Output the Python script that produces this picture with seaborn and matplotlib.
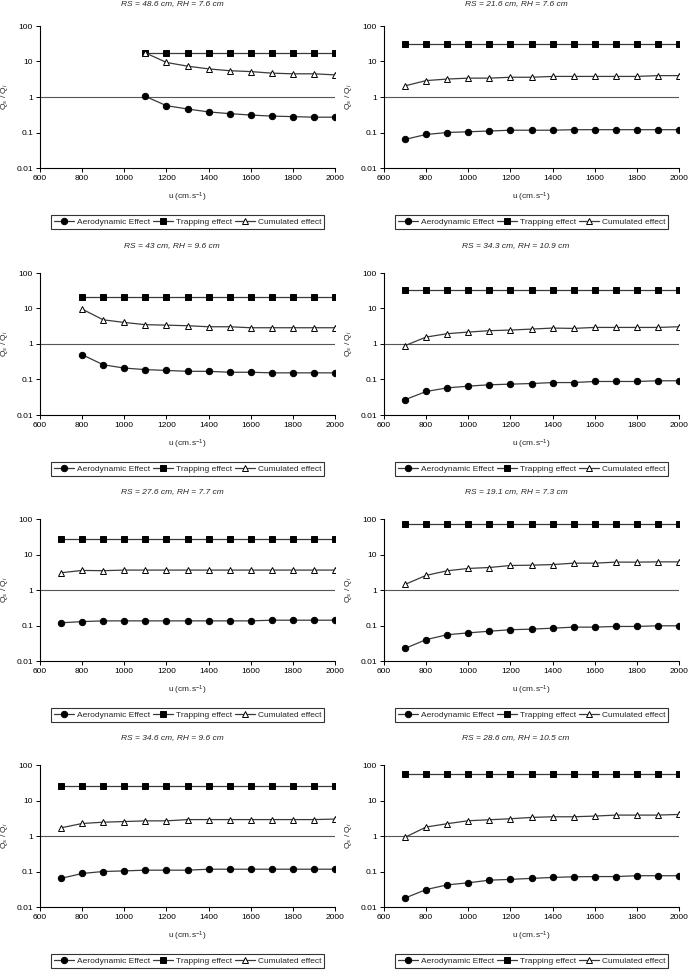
import numpy as np
import pandas as pd
import matplotlib
matplotlib.use("Agg")
import matplotlib.pyplot as plt
from matplotlib.lines import Line2D
from matplotlib.ticker import FixedLocator, FixedFormatter
import seaborn as sns


# ── Data ─────────────────────────────────────────────────────────────────────

u_from_1100 = [1100, 1200, 1300, 1400, 1500, 1600, 1700, 1800, 1900, 2000]
u_from_800 = [800, 900, 1000, 1100, 1200, 1300, 1400, 1500, 1600, 1700, 1800, 1900, 2000]
u_from_700 = [700, 800, 900, 1000, 1100, 1200, 1300, 1400, 1500, 1600, 1700, 1800, 1900, 2000]

titles = [
    "RS = 48.6 cm, RH = 7.6 cm",
    "RS = 21.6 cm, RH = 7.6 cm",
    "RS = 43 cm, RH = 9.6 cm",
    "RS = 34.3 cm, RH = 10.9 cm",
    "RS = 27.6 cm, RH = 7.7 cm",
    "RS = 19.1 cm, RH = 7.3 cm",
    "RS = 34.6 cm, RH = 9.6 cm",
    "RS = 28.6 cm, RH = 10.5 cm",
]

# panel 1
aero_1 = [1.04, 0.57, 0.46, 0.38, 0.34, 0.31, 0.29, 0.28, 0.27, 0.27]
trap_1 = [17.5, 17.5, 17.5, 17.5, 17.5, 17.5, 17.5, 17.5, 17.5, 17.5]
cumul_1 = [17.5, 9.4, 7.4, 6.2, 5.5, 5.2, 4.7, 4.5, 4.5, 4.2]

# panel 2
aero_2 = [0.064, 0.088, 0.10, 0.105, 0.11, 0.116, 0.116, 0.116, 0.12, 0.12, 0.12, 0.12, 0.12, 0.12]
trap_2 = [32, 32, 32, 32, 32, 32, 32, 32, 32, 32, 32, 32, 32, 32]
cumul_2 = [2.06, 2.9, 3.2, 3.4, 3.4, 3.6, 3.6, 3.8, 3.8, 3.8, 3.8, 3.8, 4.0, 4.0]

# panel 3
aero_3 = [0.50, 0.26, 0.21, 0.19, 0.18, 0.17, 0.17, 0.16, 0.16, 0.154, 0.154, 0.154, 0.154]
trap_3 = [20.8, 20.8, 20.8, 20.8, 20.8, 20.8, 20.8, 20.8, 20.8, 20.8, 20.8, 20.8, 20.8]
cumul_3 = [9.6, 4.8, 4.05, 3.5, 3.4, 3.27, 3.06, 3.06, 2.87, 2.87, 2.87, 2.87, 2.87]

# panel 4
aero_4 = [0.027, 0.046, 0.058, 0.065, 0.071, 0.074, 0.077, 0.082, 0.082, 0.088, 0.088, 0.088, 0.092, 0.092]
trap_4 = [34, 34, 34, 34, 34, 34, 34, 34, 34, 34, 34, 34, 34, 34]
cumul_4 = [0.90, 1.57, 1.95, 2.17, 2.37, 2.47, 2.63, 2.81, 2.75, 2.93, 2.93, 2.93, 2.93, 3.06]

# panel 5
aero_5 = [0.119, 0.129, 0.135, 0.135, 0.135, 0.135, 0.135, 0.135, 0.135, 0.135, 0.141, 0.141, 0.141, 0.141]
trap_5 = [27.5, 27.5, 27.5, 27.5, 27.5, 27.5, 27.5, 27.5, 27.5, 27.5, 27.5, 27.5, 27.5, 27.5]
cumul_5 = [3.06, 3.56, 3.5, 3.64, 3.64, 3.64, 3.64, 3.64, 3.64, 3.64, 3.64, 3.64, 3.64, 3.64]

# panel 6
aero_6 = [0.0227, 0.040, 0.055, 0.062, 0.069, 0.076, 0.079, 0.084, 0.090, 0.090, 0.094, 0.094, 0.098, 0.098]
trap_6 = [71, 71, 71, 71, 71, 71, 71, 71, 71, 71, 71, 71, 71, 71]
cumul_6 = [1.44, 2.58, 3.48, 4.05, 4.3, 4.9, 5.0, 5.2, 5.7, 5.7, 6.1, 6.1, 6.2, 6.2]

# panel 7
aero_7 = [0.064, 0.088, 0.10, 0.104, 0.109, 0.109, 0.109, 0.116, 0.116, 0.116, 0.116, 0.116, 0.116, 0.116]
trap_7 = [26.1, 26.1, 26.1, 26.1, 26.1, 26.1, 26.1, 26.1, 26.1, 26.1, 26.1, 26.1, 26.1, 26.1]
cumul_7 = [1.70, 2.25, 2.45, 2.55, 2.67, 2.67, 2.9, 2.9, 2.9, 2.9, 2.9, 2.9, 2.9, 3.0]

# panel 8
aero_8 = [0.0179, 0.031, 0.042, 0.048, 0.057, 0.060, 0.064, 0.068, 0.071, 0.072, 0.072, 0.076, 0.076, 0.076]
trap_8 = [56, 56, 56, 56, 56, 56, 56, 56, 56, 56, 56, 56, 56, 56]
cumul_8 = [0.92, 1.79, 2.22, 2.69, 2.87, 3.06, 3.34, 3.48, 3.48, 3.64, 3.88, 3.88, 3.88, 4.05]

panels = [
    (u_from_1100, aero_1, trap_1, cumul_1),
    (u_from_700, aero_2, trap_2, cumul_2),
    (u_from_800, aero_3, trap_3, cumul_3),
    (u_from_700, aero_4, trap_4, cumul_4),
    (u_from_700, aero_5, trap_5, cumul_5),
    (u_from_700, aero_6, trap_6, cumul_6),
    (u_from_700, aero_7, trap_7, cumul_7),
    (u_from_700, aero_8, trap_8, cumul_8),
]

series_labels = ["Aerodynamic Effect", "Trapping effect", "Cumulated effect"]
x_ticks = [600, 800, 1000, 1200, 1400, 1600, 1800, 2000]
y_ticks = [0.01, 0.1, 1, 10, 100]
y_tick_labels = ["0.01", "0.1", "1", "10", "100"]


# ── Style ────────────────────────────────────────────────────────────────────

sns.set_style("ticks")
plt.rcParams['font.family'] = ['Liberation Sans', 'DejaVu Sans']
plt.rcParams['mathtext.fontset'] = 'custom'
plt.rcParams['mathtext.rm'] = 'Liberation Sans'
plt.rcParams['mathtext.it'] = 'Liberation Sans:italic'

FS = 6
LINE_COLOR = "#3a3a3a"
marker_styles = [
    dict(marker='o', markerfacecolor='black', markeredgecolor='black'),
    dict(marker='s', markerfacecolor='black', markeredgecolor='black'),
    dict(marker='^', markerfacecolor='white', markeredgecolor='black'),
]
MS = 4.6


# ── Layout (pixel positions from the reference) ──────────────────────────────

W, H = 693, 971
fig = plt.figure(figsize=(W / 100, H / 100), dpi=100)

col_left = [40, 384]
row_top = [26, 273, 519, 765]
ax_w, ax_h = 295, 142


def draw_panel(ax, u, aero, trap, cumul):
    df = pd.DataFrame({"u": u, "aero": aero, "trap": trap, "cumul": cumul})
    ax.axhline(1, color="#555555", lw=0.8, zorder=1)
    for col, style in zip(["aero", "trap", "cumul"], marker_styles):
        sns.lineplot(data=df, x="u", y=col, ax=ax, color=LINE_COLOR, lw=0.9,
                     markersize=MS, markeredgewidth=0.7, zorder=3, **style)

    ax.set_yscale("log")
    ax.set_ylim(0.01, 100)
    ax.set_xlim(600, 2000)
    ax.yaxis.set_major_locator(FixedLocator(y_ticks))
    ax.yaxis.set_major_formatter(FixedFormatter(y_tick_labels))
    ax.yaxis.set_minor_locator(FixedLocator([]))
    ax.set_xticks(x_ticks)
    ax.set_xticklabels([str(t) for t in x_ticks])
    ax.tick_params(axis="both", labelsize=FS, length=3, width=0.7,
                   direction="out", pad=2, colors="black")

    for side in ["top", "right"]:
        ax.spines[side].set_visible(False)
    for side in ["left", "bottom"]:
        ax.spines[side].set_color("black")
        ax.spines[side].set_linewidth(0.8)

    ax.set_xlabel("u (cm.s$^{-1}$)", fontsize=FS, labelpad=6)
    ax.set_ylabel("Q$_{s}$ / Q$_{i}$", fontsize=FS)
    ax.yaxis.set_label_coords(-0.102, 0.5)

    handles = [Line2D([], [], color=LINE_COLOR, lw=0.9, markersize=MS,
                      markeredgewidth=0.7, **style) for style in marker_styles]
    leg = ax.legend(handles, series_labels, loc="center", ncol=3,
                    bbox_to_anchor=(0.5, -0.38), bbox_transform=ax.transAxes,
                    fontsize=FS, frameon=True, fancybox=False,
                    handlelength=2.5, handletextpad=0.3, columnspacing=0.3,
                    borderpad=0.35, borderaxespad=0)
    leg.get_frame().set_edgecolor("black")
    leg.get_frame().set_linewidth(0.8)


for i, (u, aero, trap, cumul) in enumerate(panels):
    r, c = divmod(i, 2)
    left = col_left[c]
    top = row_top[r]
    ax = fig.add_axes([left / W, 1 - (top + ax_h) / H, ax_w / W, ax_h / H])
    draw_panel(ax, u, aero, trap, cumul)

    # panel caption above each plot; the top row is pushed just inside the page
    if r == 0:
        fig.text((left + 132) / W, 1 - 0.5 / H, titles[i], fontsize=FS,
                 style="italic", ha="center", va="top")
    else:
        fig.text((left + 132) / W, 1 - (top - 27) / H, titles[i], fontsize=FS,
                 style="italic", ha="center", va="center")

fig.savefig("out.png", dpi=100)
